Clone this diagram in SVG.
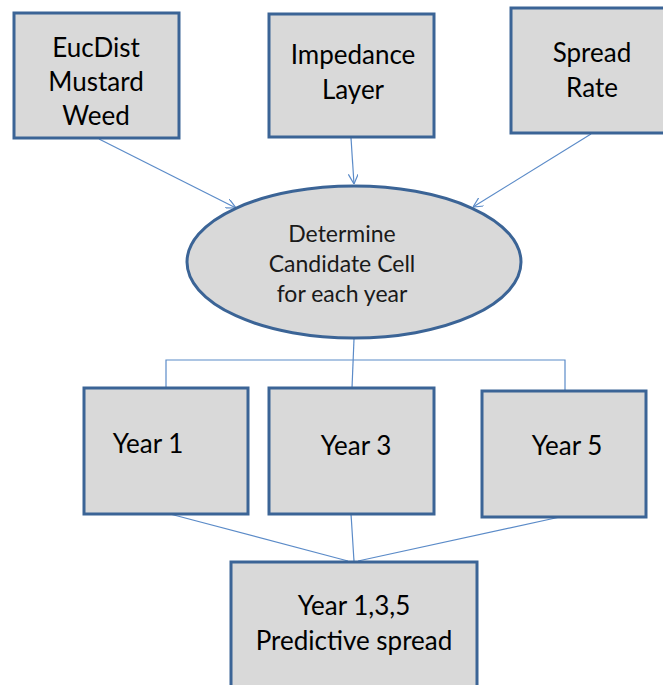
<svg xmlns="http://www.w3.org/2000/svg" width="663" height="685" viewBox="0 0 663 685">
<style>
.box{fill:#d9d9d9;stroke:#3b6496;stroke-width:3}
.t{font-family:Lato,"Open Sans",sans-serif;font-size:26px;fill:#000;text-anchor:middle}
.te{font-family:Lato,"Open Sans",sans-serif;font-size:23px;fill:#1a1a1a;text-anchor:middle}
.c{fill:none;stroke:#5b8bc8;stroke-width:1.2}
</style>
<defs>
<marker id="arr" viewBox="0 0 10 10" refX="10" refY="5" markerWidth="10" markerHeight="10" markerUnits="userSpaceOnUse" orient="auto">
<path d="M0,0 L10,5 L0,10" fill="none" stroke="#5b8bc8" stroke-width="1.2"/>
</marker>
</defs>
<rect width="663" height="685" fill="#fff"/>
<g id="connectors">
<line class="c" x1="99" y1="139" x2="236" y2="208" marker-end="url(#arr)"/>
<line class="c" x1="351" y1="138" x2="354" y2="184" marker-end="url(#arr)"/>
<line class="c" x1="591" y1="134" x2="473" y2="207" marker-end="url(#arr)"/>
<polyline class="c" points="354,339 352,388"/>
<polyline class="c" points="166,388 166,360 565,360 565,391"/>
<line class="c" x1="170" y1="514" x2="348" y2="561"/>
<line class="c" x1="351" y1="514" x2="354" y2="561"/>
<line class="c" x1="560" y1="517" x2="358" y2="561"/>
</g>
<g id="eucdist">
<rect class="box" x="14" y="13" width="165" height="125"/>
<text class="t" x="96" y="57">EucDist</text>
<text class="t" x="96" y="91">Mustard</text>
<text class="t" x="96" y="125">Weed</text>
</g>
<g id="impedance">
<rect class="box" x="269" y="14" width="165" height="123"/>
<text class="t" x="353" y="64">Impedance</text>
<text class="t" x="353" y="99">Layer</text>
</g>
<g id="spread">
<rect class="box" x="511" y="8" width="160" height="125"/>
<text class="t" x="592" y="62">Spread</text>
<text class="t" x="592" y="97">Rate</text>
</g>
<g id="determine">
<ellipse class="box" cx="354" cy="262" rx="167" ry="76"/>
<text class="te" x="342" y="242">Determine</text>
<text class="te" x="342" y="272">Candidate Cell</text>
<text class="te" x="342" y="302">for each year</text>
</g>
<g id="year1">
<rect class="box" x="84" y="388" width="164" height="126"/>
<text class="t" x="148" y="453">Year 1</text>
</g>
<g id="year3">
<rect class="box" x="269" y="388" width="165" height="126"/>
<text class="t" x="356" y="455">Year 3</text>
</g>
<g id="year5">
<rect class="box" x="482" y="391" width="164" height="126"/>
<text class="t" x="567" y="455">Year 5</text>
</g>
<g id="predictive">
<rect class="box" x="231" y="562" width="246" height="140"/>
<text class="t" x="354" y="615">Year 1,3,5</text>
<text class="t" x="354" y="650">Predictive spread</text>
</g>
</svg>
